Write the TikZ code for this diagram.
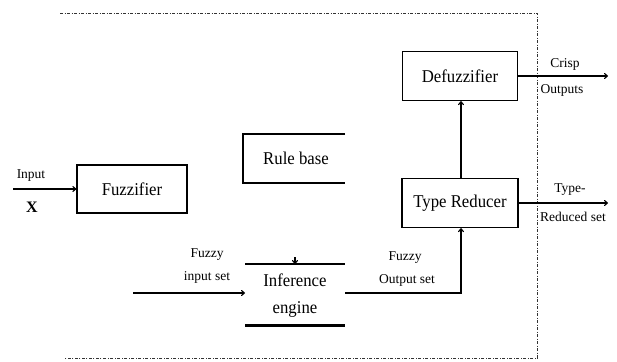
\documentclass[tikz,border=0pt]{standalone}
\usepackage{fontspec}
\setmainfont{Liberation Serif}
\newfontfamily\narrowfont[FakeStretch=0.93]{Liberation Serif}
\usetikzlibrary{arrows.meta}
\tikzset{
  box/.style={draw, line width=1.3pt, inner sep=0pt},
  maintext/.style={font=\narrowfont\fontsize{18}{20}\selectfont},
  lab/.style={font=\fontsize{13.5}{15}\selectfont, inner sep=0pt},
  conn/.style={line width=1.1pt},
  arr/.style={conn, -{To[length=4pt,width=6pt]}},
  border/.style={line width=0.8pt, dash pattern=on 3pt off 1.5pt on 1pt off 1.5pt, black!80}
}
\begin{document}
\begin{tikzpicture}[x=1pt,y=-1pt]
\useasboundingbox (0,0) rectangle (617,361);
% dashed enclosure (open on the left)
\coordinate (b1) at (60,13);
\coordinate (b2) at (537,13);
\coordinate (b3) at (537,358);
\coordinate (b4) at (65,358);
\draw[border] (b1) -- (b2) -- (b3) -- (b4);

% boxes
\node[box, maintext, minimum width=110pt, minimum height=48pt] (fuz) at (132,189) {Fuzzifier};
\node[box, maintext, minimum width=115pt, minimum height=49pt] (def) at (460,76) {Defuzzifier};
\node[box, maintext, minimum width=116pt, minimum height=49pt] (tr) at (460,203) {Type Reducer};

% rule base (open on the right)
\coordinate (rb1) at (345,134);
\coordinate (rb2) at (243,134);
\coordinate (rb3) at (243,183);
\coordinate (rb4) at (345,183);
\draw[line width=1.3pt] (rb1) -- (rb2) -- (rb3) -- (rb4);
\node[maintext] (rb) at (296,158) {Rule base};

% inference engine
\coordinate (ie1) at (245,264);
\coordinate (ie2) at (345,264);
\coordinate (ie3) at (245,325);
\coordinate (ie4) at (345,325);
\draw[line width=1.3pt] (ie1) -- (ie2);
\draw[line width=3pt] (ie3) -- (ie4);
\node[maintext, align=center, inner sep=0pt] (ie) at (295,296) {Inference\\[7pt]engine};
\coordinate (ietop) at (295,264);
\coordinate (ietipstart) at (295,257);
\draw[arr] (ietipstart) -- (ietop);

% input
\coordinate (in) at (13,189);
\draw[arr] (in) -- (fuz.west);
\node[lab] (inlab) at (31,176) {Input};
\node[font=\bfseries\fontsize{16}{18}\selectfont, inner sep=0pt] (xlab) at (32,207) {X};

% fuzzy input set
\coordinate (fin) at (133,293);
\coordinate (iein) at (245,293);
\draw[arr] (fin) -- (iein);
\node[lab] (fl1) at (207,255) {Fuzzy};
\node[lab] (fl2) at (207,277) {input set};

% fuzzy output set
\coordinate (ieout) at (345,293);
\coordinate (corner) at (461,293);
\draw[arr] (ieout) -- (corner) -- (tr.south -| corner);
\node[lab] (fo1) at (405,258) {Fuzzy};
\node[lab] (fo2) at (407,280) {Output set};

% type reducer to defuzzifier
\draw[arr] (tr.north -| corner) -- (def.south -| corner);

% outputs
\coordinate (crisp) at (608,76);
\draw[arr] (def.east) -- (crisp);
\node[lab] (c1) at (565,64) {Crisp};
\node[lab] (c2) at (562,90) {Outputs};

\coordinate (tro) at (608,203);
\draw[arr] (tr.east) -- (tro);
\node[lab] (t1) at (570,190) {Type-};
\node[lab] (t2) at (573,217) {Reduced set};
\end{tikzpicture}
\end{document}
